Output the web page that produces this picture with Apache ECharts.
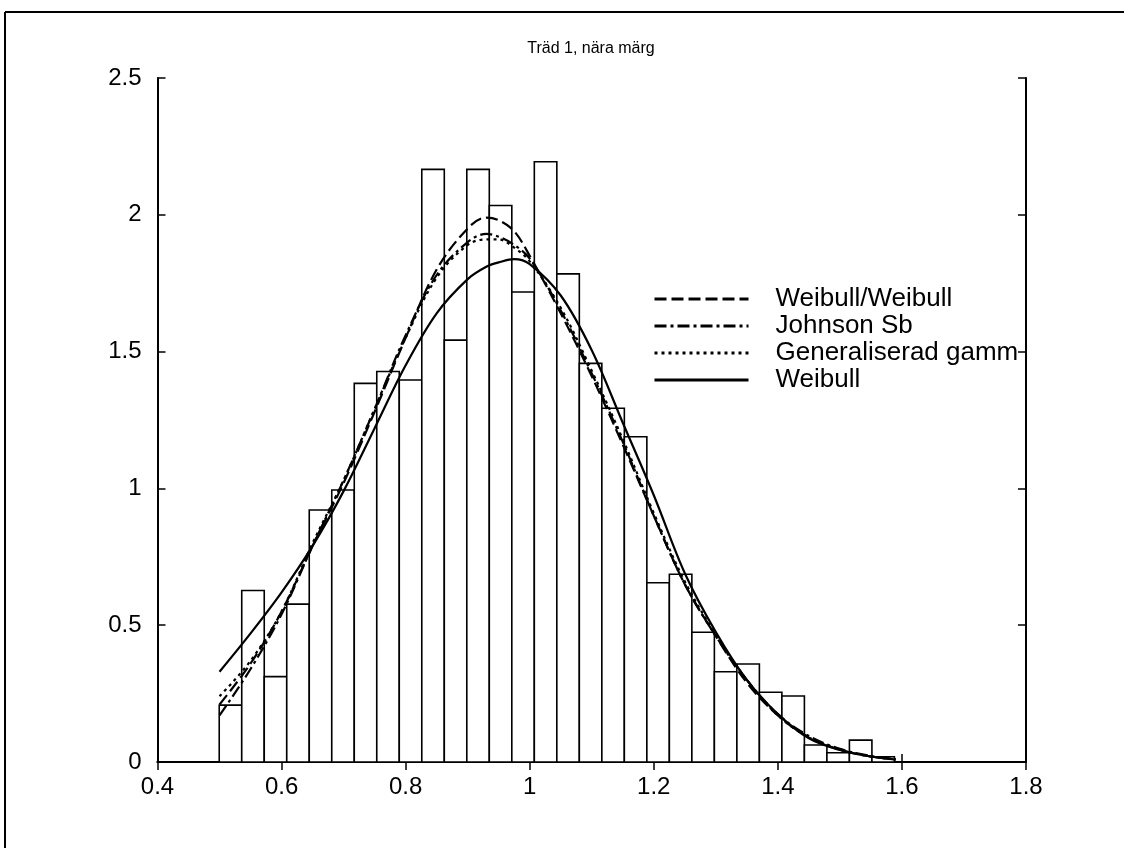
<!DOCTYPE html>
<html>
<head>
<meta charset="utf-8">
<script src="https://cdn.jsdelivr.net/npm/echarts@6/dist/echarts.min.js"></script>
<style>
  html, body { margin: 0; padding: 0; background: #fff; }
  #chart { width: 1124px; height: 848px; }
</style>
</head>
<body>
<div id="chart"></div>
<script>
// histogram (density) : 30 bins starting at binStart
const binStart = 0.4995
const binWidth = 0.03628
const density = [0.208, 0.627, 0.312, 0.577, 0.921, 0.994, 1.384, 1.427, 1.396, 2.166,
                 1.542, 2.166, 2.034, 1.718, 2.194, 1.784, 1.457, 1.293, 1.189, 0.655,
                 0.686, 0.474, 0.330, 0.358, 0.255, 0.241, 0.062, 0.034, 0.080, 0.019]

// fitted densities
const xs = [0.50, 0.55, 0.60, 0.65, 0.70, 0.75, 0.80, 0.85, 0.90, 0.93, 0.95, 0.975,
            1.00, 1.05, 1.10, 1.15, 1.20, 1.25, 1.30, 1.35, 1.40, 1.45, 1.50, 1.55, 1.59]
const weibullWeibull = [0.21, 0.36, 0.55, 0.79, 1.02, 1.28, 1.55, 1.80, 1.95, 1.99, 1.98, 1.94,
                        1.85, 1.64, 1.41, 1.16, 0.90, 0.65, 0.46, 0.29, 0.17, 0.09, 0.045, 0.02, 0.01]
const johnsonSb = [0.17, 0.34, 0.54, 0.79, 1.03, 1.29, 1.56, 1.78, 1.90, 1.93, 1.92, 1.89,
                   1.84, 1.65, 1.42, 1.17, 0.90, 0.65, 0.46, 0.30, 0.175, 0.095, 0.048, 0.022, 0.01]
const genGamma = [0.24, 0.37, 0.55, 0.80, 1.03, 1.29, 1.55, 1.77, 1.89, 1.91, 1.91, 1.88,
                  1.83, 1.66, 1.43, 1.18, 0.91, 0.66, 0.465, 0.30, 0.17, 0.09, 0.045, 0.02, 0.01]
const weibull = [0.33, 0.47, 0.62, 0.79, 0.99, 1.22, 1.45, 1.64, 1.765, 1.81, 1.826, 1.838,
                 1.82, 1.705, 1.505, 1.24, 0.975, 0.69, 0.475, 0.30, 0.175, 0.087, 0.044, 0.02, 0.009]

const names = ['Weibull/Weibull', 'Johnson Sb', 'Generaliserad gamma', 'Weibull']

const font = 'Liberation Sans, Arial, sans-serif'
const pairs = (ys) => xs.map((x, i) => [x, ys[i]])
const bins = density.map((d, i) => [binStart + i * binWidth, binStart + (i + 1) * binWidth, d])

function lineSeries(name, ys, type){
    return {
        type: 'line',
        name: name,
        data: pairs(ys),
        smooth: 0.35,
        symbol: 'none',
        z: 3,
        lineStyle: { color: '#000', width: 2.2, type: type },
        itemStyle: { color: '#000' },
    }
}

const chart = echarts.init(document.getElementById('chart'))
chart.setOption({
    backgroundColor: '#fff',
    animation: false,
    title: {
        text: 'Träd 1, nära märg',
        left: 586,
        textAlign: 'center',
        top: 36,
        textStyle: { fontFamily: font, fontSize: 16, fontWeight: 'normal', color: '#000' },
    },
    legend: {
        orient: 'vertical',
        left: 648,
        top: 281,
        itemWidth: 94,
        itemHeight: 14,
        itemGap: 1,
        data: names,
        itemStyle: { opacity: 0 },
        lineStyle: { width: 3 },
        textStyle: {
            fontFamily: font, fontSize: 26, color: '#000', lineHeight: 26,
            padding: [0, 0, 0, 22],
            width: 250, overflow: 'truncate', ellipsis: '',
        },
    },
    grid: { left: 157.5, right: 98, top: 78, bottom: 86 },
    xAxis: [
        {
            type: 'value', min: 0.4, max: 1.8, interval: 0.2,
            axisLine: { lineStyle: { color: '#000', width: 2 } },
            axisTick: { inside: true, length: 8, lineStyle: { color: '#000', width: 1.5 } },
            axisLabel: { fontFamily: font, fontSize: 24, color: '#000', margin: 13,
                         formatter: (v) => String(+v.toFixed(1)) },
            splitLine: { show: false },
        },
        {
            type: 'value', min: 0.4, max: 1.8, interval: 0.2, position: 'top',
            axisLine: { lineStyle: { color: '#000', width: 2 } },
            axisTick: { inside: true, length: 8, lineStyle: { color: '#000', width: 1.5 } },
            axisLabel: { show: false },
            splitLine: { show: false },
        },
    ],
    yAxis: [
        {
            type: 'value', min: 0, max: 2.5, interval: 0.5,
            axisLine: { show: true, lineStyle: { color: '#000', width: 2 } },
            axisTick: { show: true, inside: true, length: 8, lineStyle: { color: '#000', width: 1.5 } },
            axisLabel: { fontFamily: font, fontSize: 24, color: '#000', margin: 16 },
            splitLine: { show: false },
        },
        {
            type: 'value', min: 0, max: 2.5, interval: 0.5, position: 'right',
            axisLine: { show: true, lineStyle: { color: '#000', width: 2 } },
            axisTick: { show: true, inside: true, length: 8, lineStyle: { color: '#000', width: 1.5 } },
            axisLabel: { show: false },
            splitLine: { show: false },
        },
    ],
    graphic: [
        { type: 'line', shape: { x1: 5, y1: 12, x2: 1124, y2: 12 }, style: { stroke: '#000', lineWidth: 2 } },
        { type: 'line', shape: { x1: 5, y1: 12, x2: 5, y2: 848 }, style: { stroke: '#000', lineWidth: 2 } },
    ],
    series: [
        {
            type: 'custom',
            name: 'hist',
            data: bins,
            encode: { x: [0, 1], y: 2 },
            z: 1,
            renderItem: function(params, api){
                const p0 = api.coord([api.value(0), api.value(2)])
                const p1 = api.coord([api.value(1), 0])
                return {
                    type: 'rect',
                    shape: { x: p0[0], y: p0[1], width: p1[0] - p0[0], height: p1[1] - p0[1] },
                    style: { fill: '#fff', stroke: '#000', lineWidth: 1.6 },
                }
            },
        },
        lineSeries(names[0], weibullWeibull, [12, 5]),
        lineSeries(names[1], johnsonSb, [12, 4, 3, 4]),
        lineSeries(names[2], genGamma, [3, 4]),
        lineSeries(names[3], weibull, 'solid'),
    ],
})
</script>
</body>
</html>
